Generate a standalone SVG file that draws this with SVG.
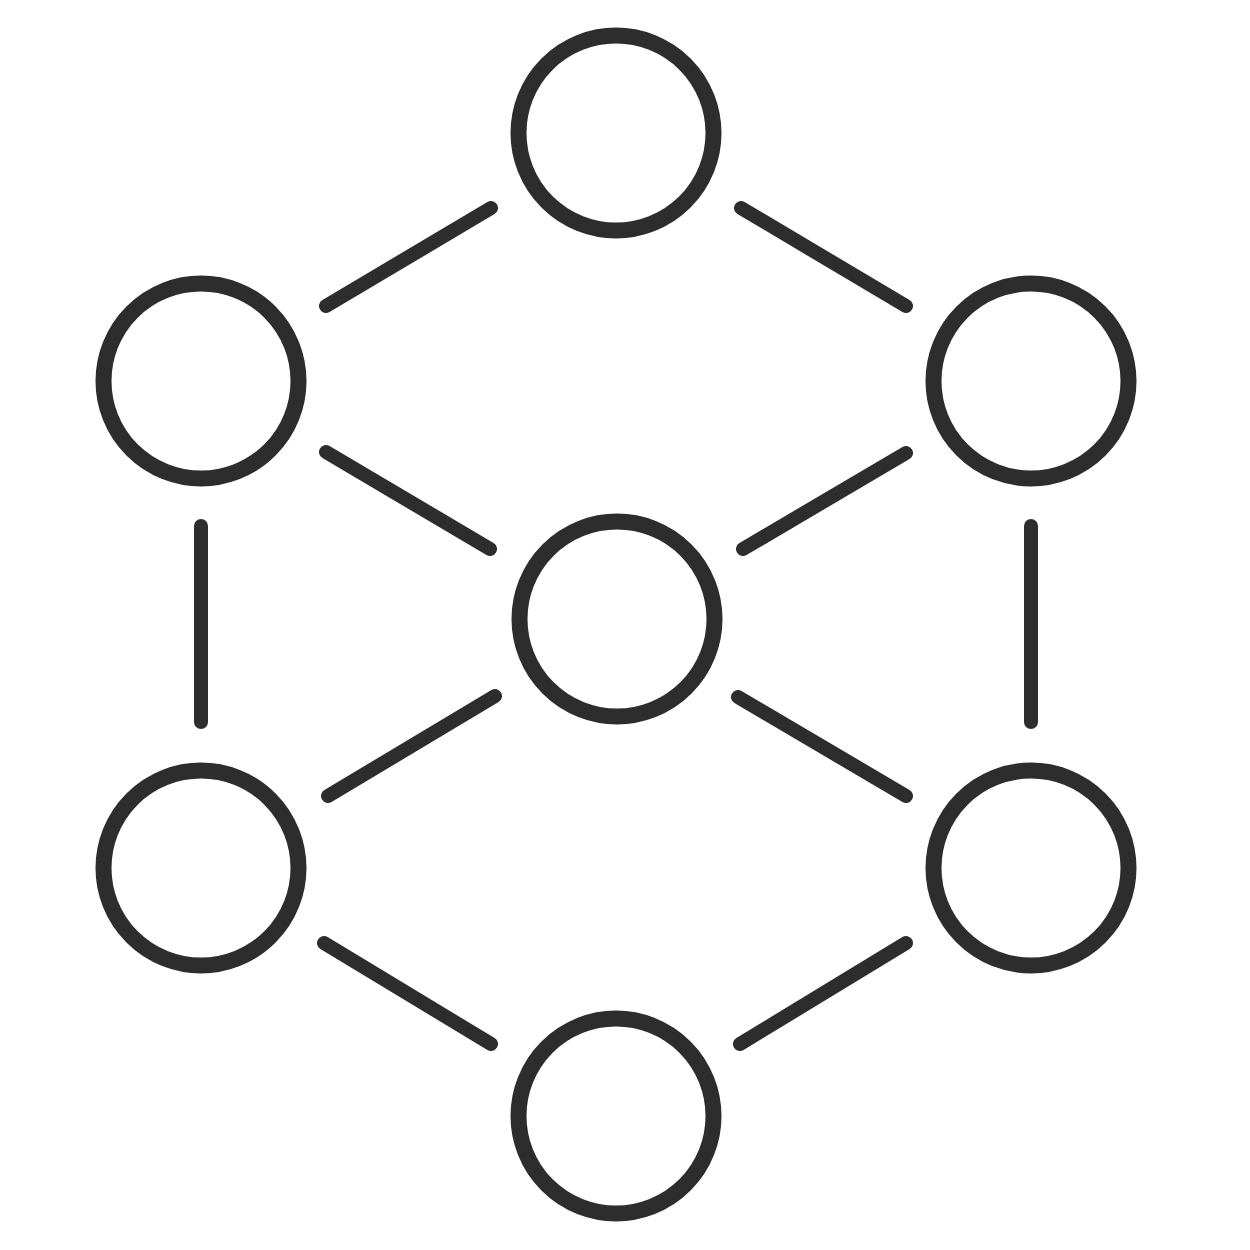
<svg xmlns="http://www.w3.org/2000/svg" width="1250" height="1250" viewBox="0 0 1250 1250">
<style>
.n{fill:none;stroke:#2d2d2d;stroke-width:16}
.e{stroke:#2d2d2d;stroke-width:14;stroke-linecap:round;fill:none}
</style>
<rect width="1250" height="1250" fill="#ffffff"/>
<g id="edges">
<line class="e" x1="491" y1="208" x2="326" y2="306"/>
<line class="e" x1="741" y1="208" x2="906" y2="306"/>
<line class="e" x1="326" y1="452" x2="490" y2="549"/>
<line class="e" x1="906" y1="453" x2="743" y2="549"/>
<line class="e" x1="201" y1="526" x2="201" y2="722"/>
<line class="e" x1="1031" y1="526" x2="1031" y2="722"/>
<line class="e" x1="495" y1="696" x2="328" y2="796"/>
<line class="e" x1="738" y1="697" x2="906" y2="796"/>
<line class="e" x1="324" y1="943" x2="491" y2="1044"/>
<line class="e" x1="906" y1="943" x2="740" y2="1044"/>
</g>
<g id="node-top"><circle class="n" cx="616" cy="133" r="97.5"/></g>
<g id="node-left-top"><circle class="n" cx="201" cy="381" r="97.5"/></g>
<g id="node-right-top"><circle class="n" cx="1031" cy="381" r="97.5"/></g>
<g id="node-center"><circle class="n" cx="617" cy="619" r="97.5"/></g>
<g id="node-left-bottom"><circle class="n" cx="201" cy="868" r="97.5"/></g>
<g id="node-right-bottom"><circle class="n" cx="1031" cy="868" r="97.5"/></g>
<g id="node-bottom"><circle class="n" cx="616" cy="1116" r="97.5"/></g>
</svg>
